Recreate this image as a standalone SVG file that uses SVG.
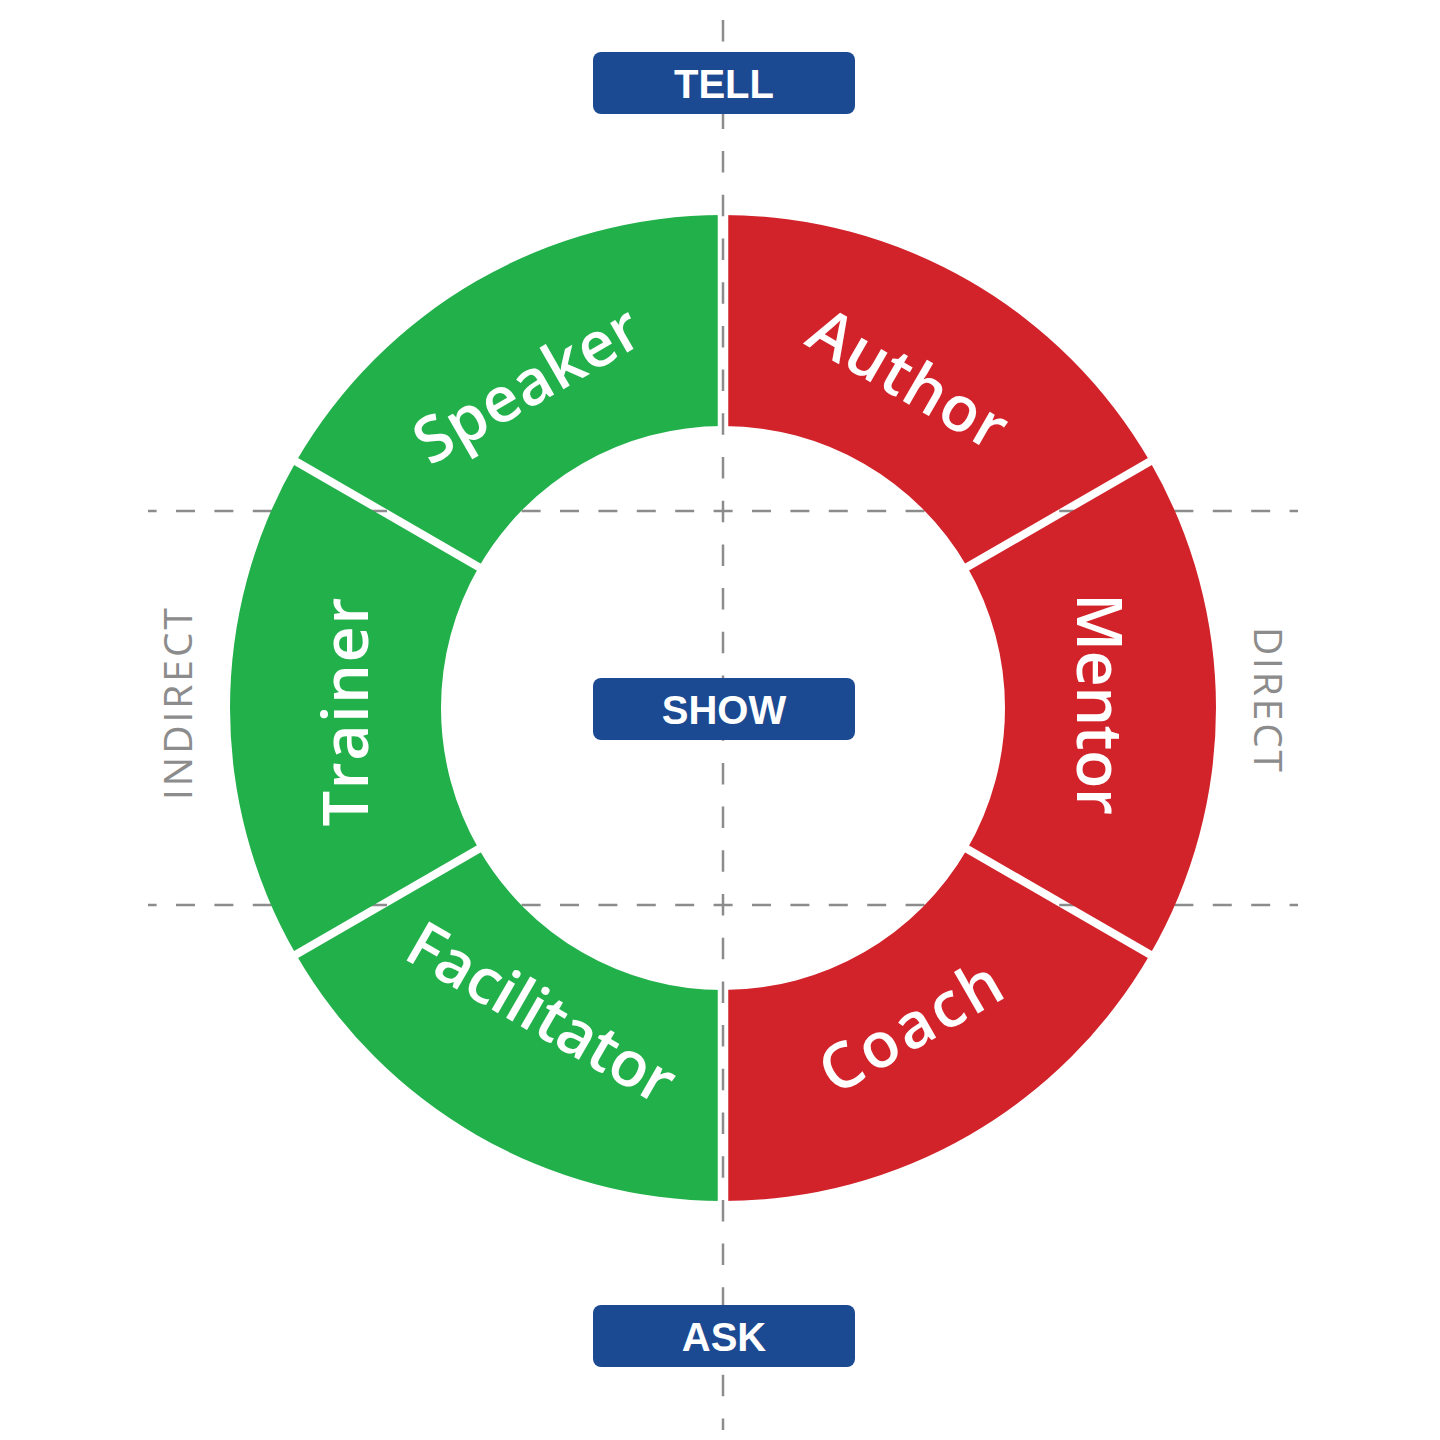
<svg xmlns="http://www.w3.org/2000/svg" width="1440" height="1440" viewBox="0 0 1440 1440">
<style>
.dash{stroke:#8c8c8c;stroke-width:2.5;fill:none}
.red{fill:#d2232b}
.green{fill:#22b04b}
.seg{font-family:"Open Sans","Liberation Sans",sans-serif;font-weight:600;font-size:63px;fill:#ffffff;text-anchor:middle}
.box{fill:#1c4a92}
.boxt{font-family:"Liberation Sans","Open Sans",sans-serif;font-weight:700;font-size:40px;fill:#ffffff;text-anchor:middle}
.axis{font-family:"Open Sans","Liberation Sans",sans-serif;font-weight:400;font-size:39px;fill:#8c8c8c;text-anchor:middle}
</style>
<defs>
<mask id="gaps" maskUnits="userSpaceOnUse" x="0" y="0" width="1440" height="1440">
<rect x="0" y="0" width="1440" height="1440" fill="#ffffff"/>
<line x1="723" y1="190" x2="723" y2="1230" stroke="#000000" stroke-width="10.5"/>
<line x1="272.7" y1="448" x2="1173.3" y2="968" stroke="#000000" stroke-width="8"/>
<line x1="272.7" y1="968" x2="1173.3" y2="448" stroke="#000000" stroke-width="8"/>
</mask>
</defs>
<rect x="0" y="0" width="1440" height="1440" fill="#ffffff"/>
<g id="connectors">
<line class="dash" x1="723" y1="20" x2="723" y2="1430" stroke-dasharray="21.5 22.2"/>
<line class="dash" x1="148" y1="511" x2="1298" y2="511" stroke-dasharray="19 19.4" stroke-dashoffset="10.4"/>
<line class="dash" x1="148" y1="905" x2="1298" y2="905" stroke-dasharray="19 19.4" stroke-dashoffset="10.4"/>
</g>
<g id="author">
<path class="red" mask="url(#gaps)" d="M723,215 A493,493 0 0 1 1149.95,461.5 L967.22,567 A282,282 0 0 0 723,426 Z"/>
<text class="seg" transform="translate(909,378) rotate(30)" x="0" y="23" textLength="218">Author</text>
</g>
<g id="mentor">
<path class="red" mask="url(#gaps)" d="M1149.95,461.5 A493,493 0 0 1 1149.95,954.5 L967.22,849 A282,282 0 0 0 967.22,567 Z"/>
<text class="seg" transform="translate(1100,704) rotate(90)" x="0" y="23" textLength="222">Mentor</text>
</g>
<g id="coach">
<path class="red" mask="url(#gaps)" d="M1149.95,954.5 A493,493 0 0 1 723,1201 L723,990 A282,282 0 0 0 967.22,849 Z"/>
<text class="seg" transform="translate(910,1026) rotate(-30)" x="0" y="23" textLength="200">Coach</text>
</g>
<g id="facilitator">
<path class="green" mask="url(#gaps)" d="M723,1201 A493,493 0 0 1 296.05,954.5 L478.78,849 A282,282 0 0 0 723,990 Z"/>
<text class="seg" transform="translate(542,1012) rotate(30)" x="0" y="23" textLength="298">Facilitator</text>
</g>
<g id="trainer">
<path class="green" mask="url(#gaps)" d="M296.05,954.5 A493,493 0 0 1 296.05,461.5 L478.78,567 A282,282 0 0 0 478.78,849 Z"/>
<text class="seg" transform="translate(345,712) rotate(-90)" x="0" y="23" textLength="229">Trainer</text>
</g>
<g id="speaker">
<path class="green" mask="url(#gaps)" d="M296.05,461.5 A493,493 0 0 1 723,215 L723,426 A282,282 0 0 0 478.78,567 Z"/>
<text class="seg" transform="translate(530,390) rotate(-30)" x="0" y="16" textLength="250">Speaker</text>
</g>
<g id="tell">
<rect class="box" x="593" y="52" width="262" height="62" rx="8"/>
<text class="boxt" x="724" y="97.5">TELL</text>
</g>
<g id="show">
<rect class="box" x="593" y="678" width="262" height="62" rx="8"/>
<text class="boxt" x="724" y="723.5">SHOW</text>
</g>
<g id="ask">
<rect class="box" x="593" y="1305" width="262" height="62" rx="8"/>
<text class="boxt" x="724" y="1350.5">ASK</text>
</g>
<g id="indirect">
<text class="axis" transform="translate(177.5,704) rotate(-90)" x="0" y="14" textLength="192">INDIRECT</text>
</g>
<g id="direct">
<text class="axis" transform="translate(1268,699.5) rotate(90)" x="0" y="14" textLength="145">DIRECT</text>
</g>
</svg>
